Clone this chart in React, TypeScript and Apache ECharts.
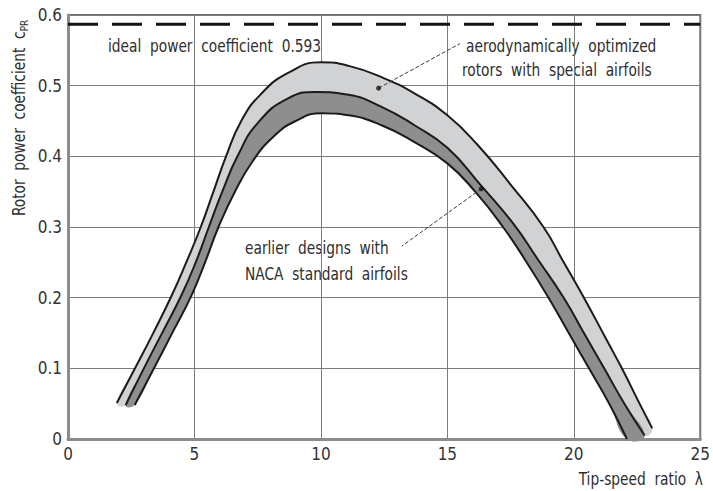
import React, { useEffect, useRef } from "react";
import * as echarts from "echarts";

const FONT = '"Liberation Sans Narrow", "DejaVu Sans Condensed", "Liberation Sans", sans-serif';

// x ticks / y ticks
const xTicks = [0, 5, 10, 15, 20, 25];
const yTicks = [0, 0.1, 0.2, 0.3, 0.4, 0.5, 0.6];

// upper edge of the band "aerodynamically optimized rotors with special airfoils"
const upperX = [1.93, 2.65, 3.4, 4.1, 4.7, 5.25, 5.75, 6.25, 6.85, 7.6, 8.7, 10.0, 11.1, 12.4, 13.7, 15.0, 16.2, 17.5, 18.8, 19.6, 20.4, 21.3, 21.9, 22.6, 23.1];
const upperY = [0.051, 0.1, 0.152, 0.203, 0.252, 0.3, 0.35, 0.4, 0.45, 0.487, 0.518, 0.533, 0.528, 0.512, 0.489, 0.458, 0.416, 0.36, 0.3, 0.25, 0.2, 0.14, 0.1, 0.05, 0.015];

// boundary between the two bands
const middleX = [2.28, 3.0, 3.75, 4.48, 5.05, 5.57, 6.1, 6.7, 7.5, 8.7, 9.8, 11.1, 12.4, 13.7, 15.0, 16.3, 17.6, 18.6, 19.6, 20.4, 21.2, 22.0, 22.8];
const middleY = [0.048, 0.1, 0.152, 0.203, 0.25, 0.3, 0.35, 0.4, 0.447, 0.482, 0.491, 0.487, 0.47, 0.444, 0.412, 0.36, 0.305, 0.253, 0.2, 0.15, 0.1, 0.05, 0.005];

// lower edge of the band "earlier designs with NACA standard airfoils"
const lowerX = [2.64, 3.4, 4.15, 4.88, 5.42, 5.95, 6.6, 7.3, 8.1, 9.0, 10.05, 11.1, 12.4, 13.7, 15.0, 16.1, 17.2, 18.1, 19.0, 19.8, 20.6, 21.4, 22.1];
const lowerY = [0.048, 0.1, 0.152, 0.203, 0.25, 0.3, 0.35, 0.393, 0.427, 0.45, 0.461, 0.458, 0.444, 0.42, 0.39, 0.35, 0.3, 0.252, 0.2, 0.15, 0.1, 0.05, 0.0];

const idealLineY = 0.587;
const idealLabel = "ideal  power  coefficient  0.593";

// leader lines: [dot on band, end near text]
const leaderOptimized = [[12.28, 0.4965], [15.5, 0.5596]];
const leaderNaca = [[16.34, 0.354], [13.2, 0.273]];

const zip = (xs: number[], ys: number[]) => xs.map((x, i) => [x, ys[i]]);

export default function App() {
  const ref = useRef<HTMLDivElement>(null);
  useEffect(() => {
    if (!ref.current) return;
    const chart = echarts.init(ref.current, undefined, { renderer: "svg" });
    const upper = zip(upperX, upperY);
    const middle = zip(middleX, middleY);
    const lower = zip(lowerX, lowerY);
    const SMOOTH = 0.5;
    const band = (a: number[][], b: number[][], fill: string) => ({
      type: "custom",
      coordinateSystem: "cartesian2d",
      data: [[0, 0]],
      silent: true,
      z: 1,
      renderItem: (_p: any, api: any) => {
        const pts = a.map((p) => api.coord(p)).concat(b.slice().reverse().map((p) => api.coord(p)));
        return { type: "polygon", shape: { points: pts, smooth: SMOOTH }, style: { fill, stroke: "none" } };
      },
    });
    const edge = (d: number[][]) => ({
      type: "line",
      data: d,
      smooth: SMOOTH,
      showSymbol: false,
      silent: true,
      z: 3,
      lineStyle: { color: "#1b1b1b", width: 2 },
    });
    const leader = (d: number[][]) => ({
      type: "line",
      data: d,
      showSymbol: false,
      silent: true,
      z: 4,
      lineStyle: { color: "#3a3a3a", width: 1, type: [4, 2] },
    });
    const textStyle = { fill: "#2e2e2e", fontFamily: FONT, fontSize: 17 };
    const SX = 0.9;
    const label = (text: string, x: number, y: number) => ({
      type: "text",
      x,
      y,
      scaleX: SX,
      style: { ...textStyle, text, align: "left", verticalAlign: "middle" },
    });
    chart.setOption({
      animation: false,
      backgroundColor: "#ffffff",
      grid: { left: 68, right: 10, top: 15, bottom: 52, show: true, borderColor: "#6e6e6e", borderWidth: 2 },
      xAxis: {
        type: "value",
        min: xTicks[0],
        max: xTicks[xTicks.length - 1],
        interval: 5,
        axisLine: { show: true, onZero: false, lineStyle: { color: "#8c8c8c", width: 3 } },
        axisTick: { show: false },
        splitLine: { show: true, lineStyle: { color: "#7c7c7c", width: 1 } },
        axisLabel: { color: "#333", fontFamily: FONT, fontSize: 17, margin: 6 },
      },
      yAxis: {
        type: "value",
        min: yTicks[0],
        max: yTicks[yTicks.length - 1],
        interval: 0.1,
        axisLine: { show: true, onZero: false, lineStyle: { color: "#8c8c8c", width: 3 } },
        axisTick: { show: false },
        splitLine: { show: true, lineStyle: { color: "#7c7c7c", width: 1 } },
        axisLabel: {
          color: "#333",
          fontFamily: FONT,
          fontSize: 17,
          margin: 6,
          formatter: (v: number) => (v === 0 ? "0" : v.toFixed(1)),
        },
      },
      series: [
        band(upper, middle, "#d1d2d4"),
        band(middle, lower, "#8e8e8e"),
        edge(upper),
        edge(middle),
        edge(lower),
        {
          type: "line",
          data: [[xTicks[0], idealLineY], [xTicks[xTicks.length - 1], idealLineY]],
          showSymbol: false,
          silent: true,
          z: 4,
          lineStyle: { color: "#111", width: 3, type: [30, 14] },
        },
        leader(leaderOptimized),
        leader(leaderNaca),
        {
          type: "scatter",
          data: [leaderOptimized[0], leaderNaca[0]],
          symbolSize: 5,
          silent: true,
          z: 5,
          itemStyle: { color: "#111" },
        },
      ],
      graphic: [
        label(idealLabel, 108, 46),
        label("aerodynamically  optimized", 466, 46),
        label("rotors  with  special  airfoils", 462, 70),
        label("earlier  designs  with", 245, 248),
        label("NACA  standard  airfoils", 245, 274),
        {
          type: "text",
          x: 703,
          y: 479,
          scaleX: SX,
          style: { ...textStyle, text: "Tip-speed  ratio  λ", align: "right", verticalAlign: "middle" },
        },
        {
          type: "text",
          x: 19,
          y: 118,
          rotation: Math.PI / 2,
          scaleX: SX,
          style: {
            ...textStyle,
            text: "Rotor  power  coefficient  c{s|PR}",
            align: "center",
            verticalAlign: "middle",
            rich: { s: { fontFamily: FONT, fontSize: 11, fill: "#2e2e2e", verticalAlign: "bottom", padding: [9, 0, 0, 0] } },
          },
        },
      ],
    });
    return () => chart.dispose();
  }, []);
  return <div ref={ref} style={{ position: "fixed", left: 0, top: 0, width: 713, height: 491 }} />;
}
